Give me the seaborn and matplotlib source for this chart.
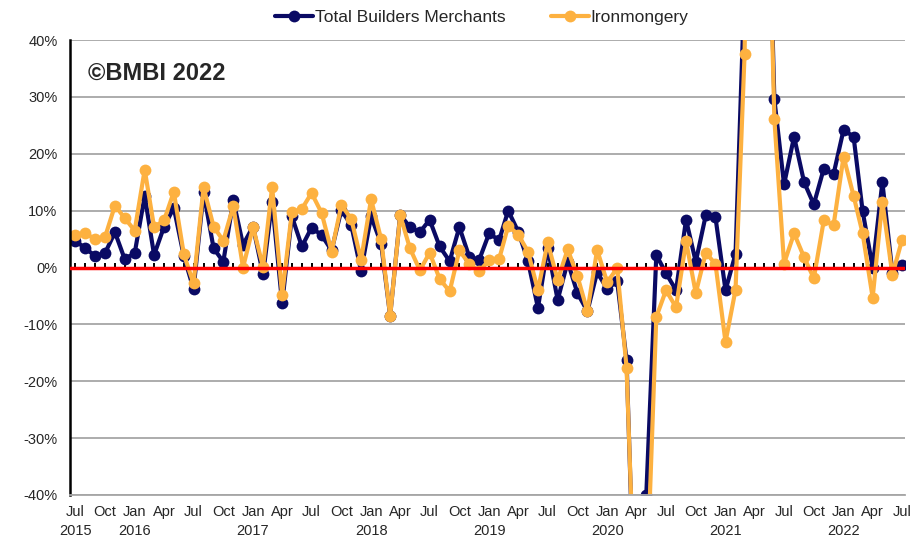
import matplotlib
matplotlib.use("Agg")
import matplotlib.pyplot as plt
import seaborn as sns
import pandas as pd

# ── Data (year-on-year % change, monthly Jul 2015 - Jul 2022) ─────────────
months = pd.date_range("2015-07-01", "2022-07-01", freq="MS")

merchants = [
    4.7, 3.4, 2.0, 2.5, 6.2, 1.5,                                   # 2015
    2.5, 12.6, 2.2, 7.2, 10.5, 2.0, -3.8, 13.2, 3.4, 1.0, 11.8, 4.0,  # 2016
    7.2, -1.2, 11.6, -6.3, 9.0, 3.7, 7.0, 5.7, 3.0, 10.1, 7.4, -0.6,  # 2017
    9.0, 4.2, -8.5, 9.3, 7.1, 6.2, 8.4, 3.7, 1.1, 7.1, 1.8, 1.3,      # 2018
    6.0, 4.8, 10.0, 6.3, 1.2, -7.1, 3.5, -5.7, 1.0, -4.5, -7.7, -0.8, # 2019
    -3.8, -2.4, -16.3, -72.0, -40.0, 2.2, -1.0, -4.0, 8.4, 1.0, 9.2, 8.8,  # 2020
    -4.0, 2.4, 50.0, 140.0, 95.0, 29.6, 14.6, 23.0, 15.0, 11.1, 17.4, 16.4,  # 2021
    24.2, 23.0, 9.9, 0.0, 15.0, -0.9, 0.5,                           # 2022
]
ironmongery = [
    5.7, 6.0, 5.0, 5.3, 10.9, 8.7,
    6.5, 17.2, 7.1, 8.3, 13.3, 2.3, -2.8, 14.1, 7.2, 4.7, 10.8, 0.0,
    7.1, 0.1, 14.2, -4.8, 9.7, 10.3, 13.1, 9.6, 2.8, 11.0, 8.5, 1.3,
    12.0, 5.0, -8.5, 9.2, 3.4, -0.5, 2.6, -2.0, -4.2, 3.0, 0.6, -0.7,
    1.3, 1.5, 7.3, 5.8, 2.8, -4.0, 4.4, -2.2, 3.2, -1.5, -7.7, 3.1,
    -2.6, -0.1, -17.6, -68.0, -58.0, -8.7, -4.0, -7.0, 4.6, -4.5, 2.6, 0.6,
    -13.1, -3.9, 37.6, 170.0, 96.0, 26.1, 0.7, 6.0, 1.8, -1.9, 8.3, 7.4,
    19.5, 12.6, 6.0, -5.3, 11.6, -1.3, 4.9,
]

series_names = ["Total Builders Merchants", "Ironmongery"]
colours = ["#0a0a64", "#FDB140"]

df = pd.DataFrame({"month": months, "merchants": merchants, "ironmongery": ironmongery})

sns.set_theme(style="white")
plt.rcParams["font.family"] = ["Liberation Sans", "DejaVu Sans"]

fig = plt.figure(figsize=(9.18, 5.42), dpi=100)
ax = fig.add_axes([70 / 918, 1 - 495 / 542, 835 / 918, 455 / 542])

for col, name, c in zip(["merchants", "ironmongery"], series_names, colours):
    sns.lineplot(data=df, x="month", y=col, ax=ax, color=c, label=name,
                 linewidth=3, marker="o", markersize=8.5, markeredgewidth=0)

ax.axhline(0, color="#ff0000", linewidth=2.5, zorder=5)

# axes
ax.set_ylim(-40, 40)
ax.set_xlim(pd.Timestamp("2015-06-15"), pd.Timestamp("2022-07-10"))
ax.set_yticks(range(-40, 41, 10))
ax.set_yticklabels([f"{v}%" for v in range(-40, 41, 10)])
ax.yaxis.grid(True, color="#a6a6a6", linewidth=1.3)
ax.set_xlabel("")
ax.set_ylabel("")

for s in ["top", "right"]:
    ax.spines[s].set_visible(False)
ax.spines["left"].set_color("black")
ax.spines["left"].set_linewidth(1.8)
ax.spines["bottom"].set_color("#a6a6a6")
ax.spines["bottom"].set_linewidth(1.3)
ax.tick_params(axis="y", direction="out", length=5, width=1.3, color="black",
               labelsize=10.5, pad=4)

ticks = pd.date_range("2015-07-01", "2022-07-01", freq="3MS")
labels = [d.strftime("%b") + (f"\n{d.year}" if d.month == 1 or i == 0 else "")
          for i, d in enumerate(ticks)]
ax.set_xticks(ticks)
ax.set_xticklabels(labels)
ax.tick_params(axis="x", length=0, labelsize=10.5, pad=7)
for lab in ax.get_xticklabels():
    lab.set_linespacing(1.5)

# category tick marks along the 0% line
sec = ax.secondary_xaxis(0.5)
sec.set_xticks(months)
sec.tick_params(axis="x", direction="out", length=3, width=1.4, color="black",
                labelbottom=False, labeltop=False)
sec.spines["bottom"].set_visible(False)
sec.spines["top"].set_visible(False)

ax.text(0.022, 0.927, "©BMBI 2022", transform=ax.transAxes, fontsize=17,
        fontweight="bold", va="center", ha="left")

ax.legend(loc="center", bbox_to_anchor=(482 / 918, 1 - 17 / 542),
          bbox_transform=fig.transFigure, ncol=2, frameon=False,
          fontsize=12.5, handlelength=2.2, columnspacing=2.6, handletextpad=0.1)

fig.savefig("out.png", dpi=100)
plt.close()
